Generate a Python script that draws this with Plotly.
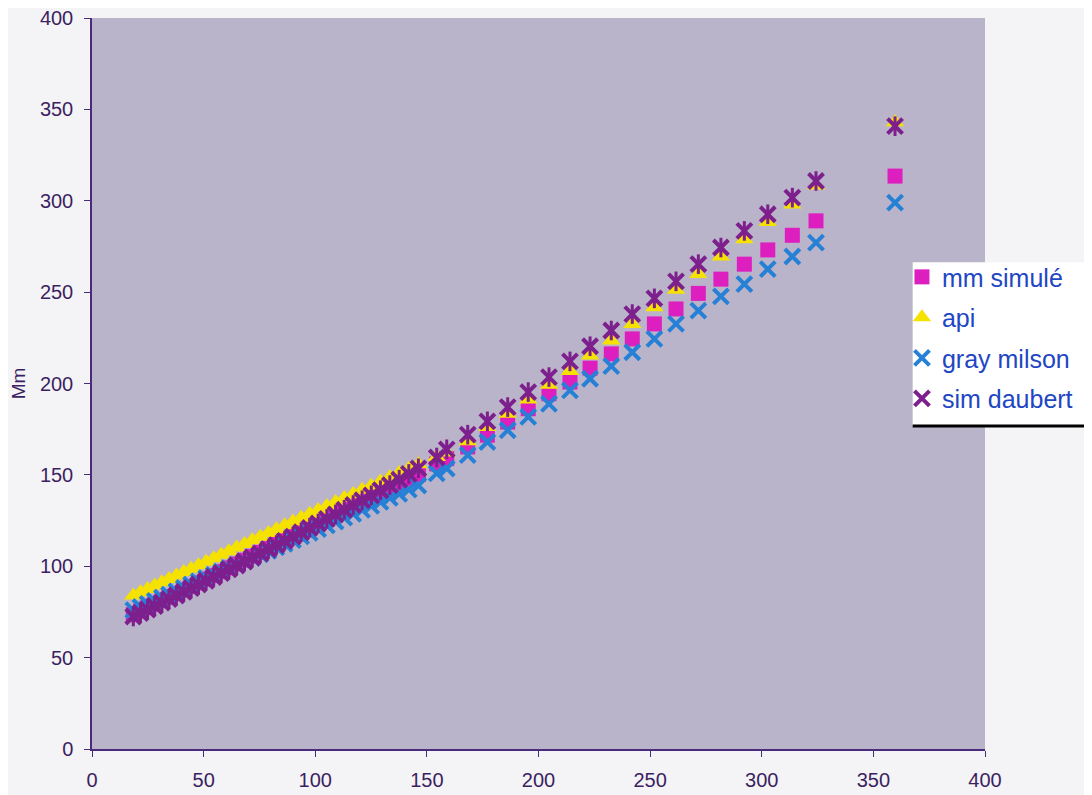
import plotly.graph_objects as go

x_vals = [18.5, 21.7, 24.9, 28.1, 31.3, 34.5, 37.8, 41.1, 44.4, 47.7, 51.1, 54.5,
          57.9, 61.3, 64.8, 68.3, 71.8, 75.4, 79.0, 82.6, 86.3, 90.0, 93.7, 97.5,
          101.3, 105.2, 109.1, 113.0, 117.0, 121.0, 125.1, 129.2, 133.4, 137.6, 141.9, 146.2,
          154.4, 158.9, 168.3, 177.1, 186.2, 195.4, 204.7, 214.1, 223.1, 232.6,
          242.0, 251.9, 261.6, 271.6, 281.7, 292.2, 302.7, 313.7, 324.3, 359.7]

mm_simule = [73.5, 75.4, 77.3, 79.2, 81.1, 83.0, 84.9, 86.9, 88.9, 90.9, 92.9, 94.9,
             97.0, 99.1, 101.2, 103.3, 105.4, 107.6, 109.8, 112.0, 114.2, 116.4, 118.7, 121.0,
             123.3, 125.6, 128.0, 130.4, 132.8, 135.2, 137.7, 140.2, 142.7, 145.2, 147.7, 150.2,
             156.0, 158.9, 165.3, 171.7, 178.9, 186.2, 194.4, 200.8, 208.4, 216.2,
             224.4, 232.6, 240.8, 249.3, 257.1, 265.3, 273.1, 281.1, 289.0, 313.5]

api = [84.0, 85.8, 87.6, 89.4, 91.2, 93.0, 94.9, 96.8, 98.7, 100.6, 102.5, 104.4,
       106.3, 108.2, 110.2, 112.2, 114.2, 116.2, 118.2, 120.3, 122.4, 124.5, 126.6, 128.7,
       130.8, 133.0, 135.2, 137.4, 139.6, 141.8, 144.1, 146.4, 148.7, 151.0, 153.4, 155.8,
       159.8, 162.2, 168.4, 176.2, 183.5, 191.3, 199.3, 206.9, 215.3, 223.5,
       232.6, 241.7, 251.3, 259.9, 269.5, 279.0, 288.4, 298.0, 308.4, 343.0]

gray_milson = [76.0, 77.7, 79.4, 81.1, 82.8, 84.5, 86.3, 88.1, 89.9, 91.7, 93.5, 95.3,
               97.1, 98.9, 100.8, 102.7, 104.6, 106.5, 108.4, 110.3, 112.3, 114.3, 116.3, 118.3,
               120.3, 122.4, 124.5, 126.6, 128.7, 130.8, 133.0, 135.2, 137.4, 139.6, 141.9, 144.2,
               150.8, 153.5, 160.8, 168.0, 174.4, 181.7, 188.9, 196.2, 202.6, 209.5,
               217.1, 224.4, 232.6, 239.9, 247.7, 254.4, 262.6, 269.5, 277.1, 299.0]

sim_daubert = [72.5, 74.4, 76.3, 78.2, 80.1, 82.0, 84.0, 86.0, 88.0, 90.0, 92.0, 94.1,
               96.2, 98.3, 100.4, 102.6, 104.8, 107.0, 109.3, 111.6, 113.9, 116.2, 118.6, 121.0,
               123.4, 125.9, 128.4, 130.9, 133.5, 136.1, 138.8, 141.6, 144.4, 147.4, 150.5, 153.6,
               159.5, 164.0, 172.0, 179.3, 187.1, 195.3, 203.5, 212.1, 220.4, 229.0,
               238.0, 246.6, 255.9, 265.3, 274.4, 283.5, 292.6, 301.7, 310.8, 340.8]

x_ticks = [0, 50, 100, 150, 200, 250, 300, 350, 400]
y_ticks = [0, 50, 100, 150, 200, 250, 300, 350, 400]

AXIS_COLOR = "#4a2a7a"
LABEL_COLOR = "#3b1f62"
FONT = "Arial, Liberation Sans, sans-serif"

fig = go.Figure()

fig.add_trace(go.Scatter(
    x=x_vals, y=mm_simule, mode="markers", name="mm simulé", legendgroup="a",
    marker=dict(symbol="square", size=15, color="#dd1fbf", line=dict(width=0))))
fig.add_trace(go.Scatter(
    x=x_vals, y=api, mode="markers", name="api", legendgroup="b",
    marker=dict(symbol="triangle-up", size=16, color="#f6e200", line=dict(width=0))))
fig.add_trace(go.Scatter(
    x=x_vals, y=gray_milson, mode="markers", name="gray milson", legendgroup="c",
    marker=dict(symbol="x-thin-open", size=15, color="#2580d6",
                line=dict(width=4, color="#2580d6"))))
fig.add_trace(go.Scatter(
    x=x_vals, y=sim_daubert, mode="markers", name="sim daubert", legendgroup="d",
    marker=dict(symbol="x-thin-open", size=15, color="#7d1f8c",
                line=dict(width=4, color="#7d1f8c"))))
fig.add_trace(go.Scatter(
    x=x_vals, y=sim_daubert, mode="markers", name="sim daubert", legendgroup="d",
    showlegend=False,
    marker=dict(symbol="line-ns-open", size=14, color="#7d1f8c",
                line=dict(width=3, color="#7d1f8c"))))

# white legend panel with black bottom rule (paper coords)
fig.add_shape(type="rect", xref="paper", yref="paper",
              x0=0.919, x1=1.13, y0=0.442, y1=0.666,
              fillcolor="white", line=dict(width=0), layer="above")
fig.add_shape(type="line", xref="paper", yref="paper",
              x0=0.919, x1=1.13, y0=0.442, y1=0.442,
              line=dict(color="black", width=3), layer="above")

fig.update_layout(
    width=1084, height=787,
    margin=dict(l=84, r=107, t=10, b=46, autoexpand=False),
    paper_bgcolor="#f4f3f5",
    plot_bgcolor="#b9b4c9",
    font=dict(family=FONT, size=20, color=LABEL_COLOR),
    showlegend=True,
    legend=dict(
        x=0.907, y=0.677, xanchor="left", yanchor="top",
        bgcolor="rgba(0,0,0,0)", borderwidth=0,
        font=dict(family=FONT, size=25, color="#2146c4"),
        tracegroupgap=5, itemwidth=30,
    ),
)

fig.update_xaxes(
    range=[0, 400], tickvals=x_ticks, ticktext=[str(v) for v in x_ticks],
    showgrid=False, zeroline=False, automargin=False,
    showline=True, linecolor=AXIS_COLOR, linewidth=1.5,
    ticks="outside", ticklen=6, tickcolor=AXIS_COLOR, tickwidth=1.2,
    ticklabelstandoff=6, ticklabeloverflow="allow",
    tickfont=dict(family=FONT, size=20, color=LABEL_COLOR),
)
fig.update_yaxes(
    range=[0, 400], tickvals=y_ticks, ticktext=[str(v) for v in y_ticks],
    showgrid=False, zeroline=False, automargin=False,
    showline=True, linecolor=AXIS_COLOR, linewidth=1.5,
    ticks="outside", ticklen=6, tickcolor=AXIS_COLOR, tickwidth=1.2,
    ticklabelstandoff=7, ticklabeloverflow="allow",
    tickfont=dict(family=FONT, size=20, color=LABEL_COLOR),
    title=dict(text="Mm", font=dict(family=FONT, size=19, color=LABEL_COLOR), standoff=20),
)

fig.write_html("out.html")
